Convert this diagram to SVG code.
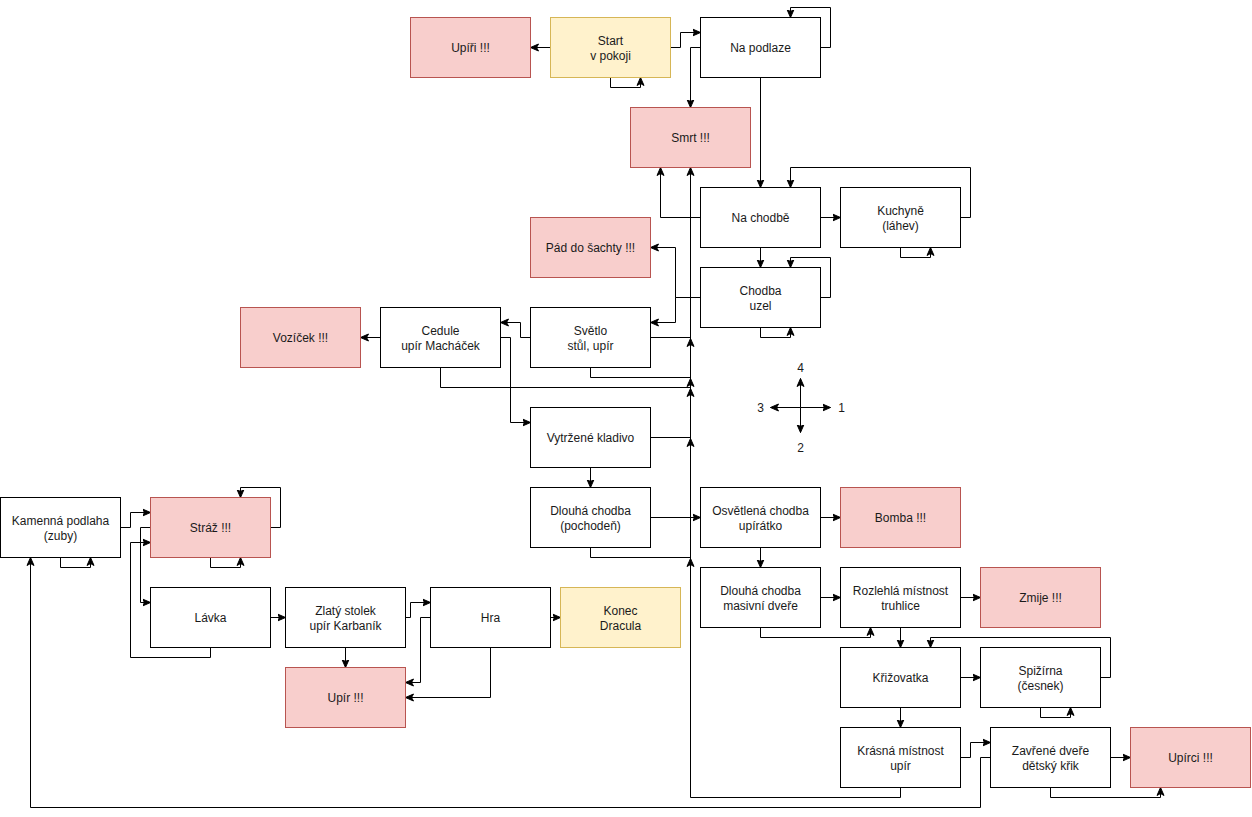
<svg xmlns="http://www.w3.org/2000/svg" width="1252" height="817" viewBox="0 0 1252 817">
<style>
.n{fill:#ffffff;stroke:#000000;stroke-width:1}
.r{fill:#f8cecc;stroke:#b85450;stroke-width:1}
.y{fill:#fff2cc;stroke:#d6b656;stroke-width:1}
text{font-family:"Liberation Sans",Arial,sans-serif;font-size:12px;fill:#1a1a1a;text-anchor:middle}
.e{fill:none;stroke:#000000;stroke-width:1;marker-end:url(#arr)}
</style>
<defs>
<marker id="arr" markerUnits="userSpaceOnUse" markerWidth="9" markerHeight="9" viewBox="0 0 9 9" refX="8" refY="4.5" orient="auto">
<path d="M0,1 L8,4.5 L0,8 L2,4.5 Z" fill="#000000" stroke="#000000" stroke-width="1"/>
</marker>
</defs>
<rect width="1252" height="817" fill="#ffffff"/>
<g transform="translate(0.5,0.5)">
<g id="connectors">
<path class="e" d="M550,47 H530"/>
<path class="e" d="M610,77 V87 H640 V77"/>
<path class="e" d="M670,47 H680 V32 H700"/>
<path class="e" d="M820,47 H830 V7 H790 V17"/>
<path class="e" d="M700,47 H690 V107"/>
<path class="e" d="M760,77 V187"/>
<path class="e" d="M700,217 H660 V167"/>
<path class="e" d="M820,217 H840"/>
<path class="e" d="M960,217 H970 V167 H790 V187"/>
<path class="e" d="M900,247 V257 H930 V247"/>
<path class="e" d="M760,247 V267"/>
<path class="e" d="M820,297 H830 V257 H790 V267"/>
<path class="e" d="M760,327 V337 H790 V327"/>
<path class="e" d="M700,297 H675 V247 H650"/>
<path class="e" d="M700,297 H675 V322 H650"/>
<path class="e" d="M900,787 V797 H690 V167"/>
<path class="e" d="M650,337 H690 M690,347 V338"/>
<path class="e" d="M590,367 V377 H690 M690,387 V378"/>
<path class="e" d="M440,367 V387 H690 M690,397 V388"/>
<path class="e" d="M650,437 H690 M690,447 V438"/>
<path class="e" d="M590,547 V557 H690 M690,567 V558"/>
<path class="e" d="M530,337 H520 V322 H500"/>
<path class="e" d="M380,337 H360"/>
<path class="e" d="M500,337 H510 V422 H530"/>
<path class="e" d="M590,467 V487"/>
<path class="e" d="M650,517 H700"/>
<path class="e" d="M820,517 H840"/>
<path class="e" d="M760,547 V567"/>
<path class="e" d="M820,597 H840"/>
<path class="e" d="M760,627 V637 H870 V627"/>
<path class="e" d="M960,597 H980"/>
<path class="e" d="M900,627 V647"/>
<path class="e" d="M960,677 H980"/>
<path class="e" d="M1100,677 H1110 V637 H930 V647"/>
<path class="e" d="M1040,707 V717 H1070 V707"/>
<path class="e" d="M900,707 V727"/>
<path class="e" d="M960,757 H970 V742 H990"/>
<path class="e" d="M990,757 H980 V807 H30 V557"/>
<path class="e" d="M1110,757 H1130"/>
<path class="e" d="M1050,787 V797 H1160 V787"/>
<path class="e" d="M120,527 H130 V512 H150"/>
<path class="e" d="M60,557 V567 H90 V557"/>
<path class="e" d="M270,527 H280 V487 H240 V497"/>
<path class="e" d="M210,557 V567 H240 V557"/>
<path class="e" d="M150,527 H140 V602 H150"/>
<path class="e" d="M210,647 V657 H130 V542 H150"/>
<path class="e" d="M270,617 H285"/>
<path class="e" d="M345,647 V667"/>
<path class="e" d="M405,617 H410 V602 H430"/>
<path class="e" d="M430,617 H420 V682 H405"/>
<path class="e" d="M490,647 V697 H405"/>
<path class="e" d="M550,617 H560"/>
</g>
<g id="compass">
<path class="e" d="M800,407 H830"/>
<path class="e" d="M800,407 H770"/>
<path class="e" d="M800,407 V378"/>
<path class="e" d="M800,407 V432"/>
<text x="841" y="411">1</text>
<text x="800" y="451">2</text>
<text x="760" y="411">3</text>
<text x="800" y="371">4</text>
</g>
<g id="n_upiri"><rect class="r" x="410" y="17" width="120" height="60"/><text x="470" y="51">Upíři !!!</text></g>
<g id="n_start"><rect class="y" x="550" y="17" width="120" height="60"/><text x="610" y="44">Start</text><text x="610" y="59">v pokoji</text></g>
<g id="n_napodlaze"><rect class="n" x="700" y="17" width="120" height="60"/><text x="760" y="51">Na podlaze</text></g>
<g id="n_smrt"><rect class="r" x="630" y="107" width="120" height="60"/><text x="690" y="141">Smrt !!!</text></g>
<g id="n_nachodbe"><rect class="n" x="700" y="187" width="120" height="60"/><text x="760" y="221">Na chodbě</text></g>
<g id="n_kuchyne"><rect class="n" x="840" y="187" width="120" height="60"/><text x="900" y="214">Kuchyně</text><text x="900" y="229">(láhev)</text></g>
<g id="n_pad"><rect class="r" x="530" y="217" width="120" height="60"/><text x="590" y="251">Pád do šachty !!!</text></g>
<g id="n_chodbauzel"><rect class="n" x="700" y="267" width="120" height="60"/><text x="760" y="294">Chodba</text><text x="760" y="309">uzel</text></g>
<g id="n_vozicek"><rect class="r" x="240" y="307" width="120" height="60"/><text x="300" y="341">Vozíček !!!</text></g>
<g id="n_cedule"><rect class="n" x="380" y="307" width="120" height="60"/><text x="440" y="334">Cedule</text><text x="440" y="349">upír Macháček</text></g>
<g id="n_svetlo"><rect class="n" x="530" y="307" width="120" height="60"/><text x="590" y="334">Světlo</text><text x="590" y="349">stůl, upír</text></g>
<g id="n_kladivo"><rect class="n" x="530" y="407" width="120" height="60"/><text x="590" y="441">Vytržené kladivo</text></g>
<g id="n_pochoden"><rect class="n" x="530" y="487" width="120" height="60"/><text x="590" y="514">Dlouhá chodba</text><text x="590" y="529">(pochodeň)</text></g>
<g id="n_osvetlena"><rect class="n" x="700" y="487" width="120" height="60"/><text x="760" y="514">Osvětlená chodba</text><text x="760" y="529">upírátko</text></g>
<g id="n_bomba"><rect class="r" x="840" y="487" width="120" height="60"/><text x="900" y="521">Bomba !!!</text></g>
<g id="n_kamenna"><rect class="n" x="0" y="497" width="120" height="60"/><text x="60" y="524">Kamenná podlaha</text><text x="60" y="539">(zuby)</text></g>
<g id="n_straz"><rect class="r" x="150" y="497" width="120" height="60"/><text x="210" y="531">Stráž !!!</text></g>
<g id="n_masivni"><rect class="n" x="700" y="567" width="120" height="60"/><text x="760" y="594">Dlouhá chodba</text><text x="760" y="609">masivní dveře</text></g>
<g id="n_rozlehla"><rect class="n" x="840" y="567" width="120" height="60"/><text x="900" y="594">Rozlehlá místnost</text><text x="900" y="609">truhlice</text></g>
<g id="n_zmije"><rect class="r" x="980" y="567" width="120" height="60"/><text x="1040" y="601">Zmije !!!</text></g>
<g id="n_lavka"><rect class="n" x="150" y="587" width="120" height="60"/><text x="210" y="621">Lávka</text></g>
<g id="n_zlaty"><rect class="n" x="285" y="587" width="120" height="60"/><text x="345" y="614">Zlatý stolek</text><text x="345" y="629">upír Karbaník</text></g>
<g id="n_hra"><rect class="n" x="430" y="587" width="120" height="60"/><text x="490" y="621">Hra</text></g>
<g id="n_konec"><rect class="y" x="560" y="587" width="120" height="60"/><text x="620" y="614">Konec</text><text x="620" y="629">Dracula</text></g>
<g id="n_krizovatka"><rect class="n" x="840" y="647" width="120" height="60"/><text x="900" y="681">Křižovatka</text></g>
<g id="n_spizirna"><rect class="n" x="980" y="647" width="120" height="60"/><text x="1040" y="674">Spižírna</text><text x="1040" y="689">(česnek)</text></g>
<g id="n_upir"><rect class="r" x="285" y="667" width="120" height="60"/><text x="345" y="701">Upír !!!</text></g>
<g id="n_krasna"><rect class="n" x="840" y="727" width="120" height="60"/><text x="900" y="754">Krásná místnost</text><text x="900" y="769">upír</text></g>
<g id="n_zavrene"><rect class="n" x="990" y="727" width="120" height="60"/><text x="1050" y="754">Zavřené dveře</text><text x="1050" y="769">dětský křik</text></g>
<g id="n_upirci"><rect class="r" x="1130" y="727" width="120" height="60"/><text x="1190" y="761">Upírci !!!</text></g>
</g>
</svg>
